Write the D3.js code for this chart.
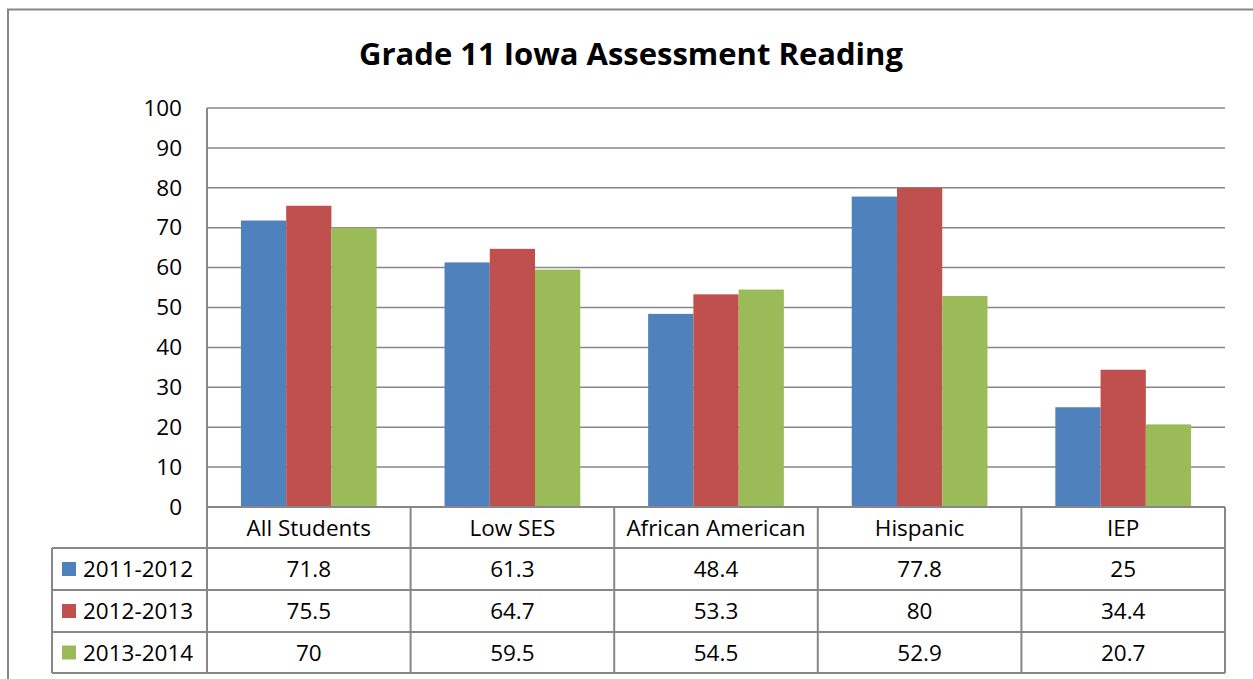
<!DOCTYPE html>
<html><head><meta charset="utf-8">
<script src="https://cdn.jsdelivr.net/npm/d3@7"></script>
<style>body{margin:0;background:#fff}svg{display:block}text{font-family:"Open Sans",Lato,sans-serif;fill:#000}</style>
</head><body>
<script>
const title = "Grade 11 Iowa Assessment Reading";
const categories = ["All Students","Low SES","African American","Hispanic","IEP"];
const seriesNames = ["2011-2012","2012-2013","2013-2014"];
const values2011 = [71.8,61.3,48.4,77.8,25];
const values2012 = [75.5,64.7,53.3,80,34.4];
const values2013 = [70,59.5,54.5,52.9,20.7];
const tableText2011 = ["71.8","61.3","48.4","77.8","25"];
const tableText2012 = ["75.5","64.7","53.3","80","34.4"];
const tableText2013 = ["70","59.5","54.5","52.9","20.7"];
const yTicks = [0,10,20,30,40,50,60,70,80,90,100];
const colors = ["#4F81BD","#C0504D","#9BBB59"];

const series = [values2011, values2012, values2013];
const tableTexts = [tableText2011, tableText2012, tableText2013];

const W=1253,H=679;
const FS="22.5px";
const svg=d3.select("body").append("svg").attr("width",W).attr("height",H);
const gridCol="#878787";
svg.append("rect").attr("x",8).attr("y",9.5).attr("width",1260).attr("height",700)
  .attr("fill","#fff").attr("stroke","#878787").attr("stroke-width",2);

const L=207,R=1225,T=108,B=507;
const x=d3.scaleBand().domain(categories).range([L,R]).paddingInner(0).paddingOuter(0);
const y=d3.scaleLinear().domain([0,100]).range([B,T]);
const inner=d3.scaleBand().domain(seriesNames).range([0,x.bandwidth()]).paddingInner(0).paddingOuter(0.75);

svg.append("text").attr("x",631).attr("y",65).attr("text-anchor","middle")
  .style("font-size","31px").style("font-weight","bold").text(title);

svg.append("g").selectAll("line").data(yTicks.filter(d=>d>0)).join("line")
  .attr("x1",L).attr("x2",R).attr("y1",d=>y(d)).attr("y2",d=>y(d))
  .attr("stroke",gridCol).attr("stroke-width",1.5);

const yAxis=d3.axisLeft(y).tickValues(yTicks).tickSize(0).tickPadding(25);
const ga=svg.append("g").attr("transform",`translate(${L},0)`).call(yAxis);
ga.select(".domain").remove();
ga.selectAll("text").style("font-size",FS).style("font-family","'Open Sans',Lato,sans-serif").attr("fill","#000");

series.forEach((vals,si)=>{
  svg.append("g").selectAll("rect").data(categories).join("rect")
    .attr("x",c=>x(c)+inner(seriesNames[si]))
    .attr("width",inner.bandwidth())
    .attr("y",(c,i)=>y(vals[i]))
    .attr("height",(c,i)=>B-y(vals[i]))
    .attr("fill",colors[si]);
});

svg.append("line").attr("x1",L).attr("x2",L).attr("y1",T).attr("y2",B).attr("stroke",gridCol).attr("stroke-width",2);

const rowY=[507,548,590,632,673];
const TL=52;
const tg=svg.append("g");
tg.append("line").attr("x1",L).attr("x2",R).attr("y1",rowY[0]).attr("y2",rowY[0]).attr("stroke",gridCol).attr("stroke-width",2);
rowY.slice(1).forEach(yy=>{
  tg.append("line").attr("x1",TL).attr("x2",R).attr("y1",yy).attr("y2",yy).attr("stroke",gridCol).attr("stroke-width",2);
});
tg.append("line").attr("x1",TL).attr("x2",TL).attr("y1",rowY[1]).attr("y2",rowY[4]).attr("stroke",gridCol).attr("stroke-width",2);
const vx=categories.map(c=>x(c)).concat([R]);
vx.forEach(xx=>{
  tg.append("line").attr("x1",xx).attr("x2",xx).attr("y1",rowY[0]).attr("y2",rowY[4]).attr("stroke",gridCol).attr("stroke-width",2);
});
tg.selectAll("text.cat").data(categories).join("text").attr("class","cat")
  .attr("x",c=>x(c)+x.bandwidth()/2).attr("y",(rowY[0]+rowY[1])/2+8)
  .attr("text-anchor","middle").style("font-size",FS).text(c=>c);
seriesNames.forEach((s,si)=>{
  const cy=(rowY[si+1]+rowY[si+2])/2;
  tg.append("rect").attr("x",62).attr("y",cy-7).attr("width",14).attr("height",14).attr("fill",colors[si]);
  tg.append("text").attr("x",83).attr("y",cy+8).style("font-size",FS).text(s);
  tg.selectAll(null).data(categories).join("text")
    .attr("x",c=>x(c)+x.bandwidth()/2).attr("y",cy+8)
    .attr("text-anchor","middle").style("font-size",FS).text((c,i)=>tableTexts[si][i]);
});
</script>
</body></html>
